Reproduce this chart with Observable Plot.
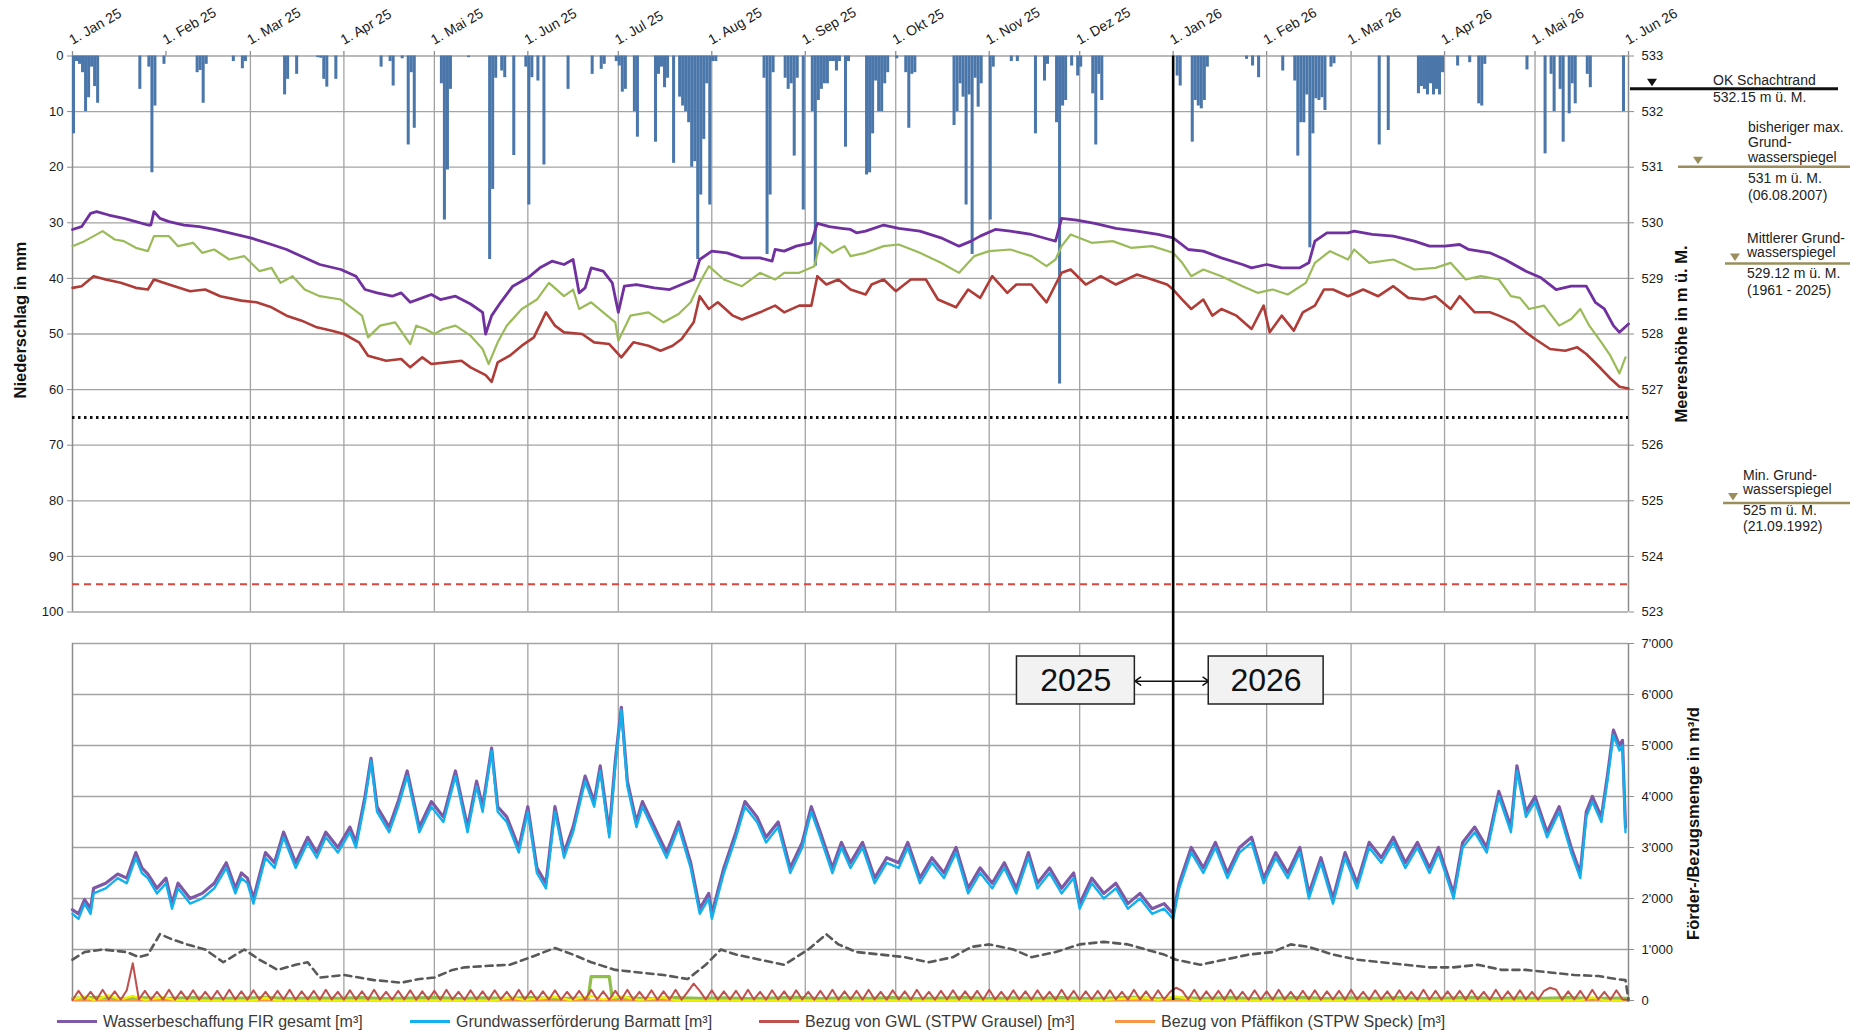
<!DOCTYPE html>
<html><head><meta charset="utf-8">
<script src="https://cdn.jsdelivr.net/npm/d3@7"></script>
<script src="https://cdn.jsdelivr.net/npm/@observablehq/plot@0.6"></script>
<style>
html,body{margin:0;padding:0;background:#fff;}
#wrap{position:relative;width:1850px;height:1032px;overflow:hidden;font-family:"Liberation Sans",Arial,sans-serif;}
#top{position:absolute;left:0;top:0;}
#bot{position:absolute;left:0;top:630px;}
.lg{position:absolute;top:1013px;height:18px;line-height:18px;font-size:16px;color:#3a3a3a;white-space:nowrap;}
.sw{display:inline-block;width:40px;height:3px;vertical-align:middle;margin-right:6px;position:relative;top:-1px;}
</style></head><body>
<div id="wrap"><div id="top"></div><div id="bot"></div>
<div class="lg" style="left:57px"><span class="sw" style="background:#7e5aa6"></span>Wasserbeschaffung FIR gesamt [m³]</div>
<div class="lg" style="left:410px"><span class="sw" style="background:#12b0ec"></span>Grundwasserförderung Barmatt [m³]</div>
<div class="lg" style="left:759px"><span class="sw" style="background:#c0504d"></span>Bezug von GWL (STPW Grausel) [m³]</div>
<div class="lg" style="left:1115px"><span class="sw" style="background:#f79646"></span>Bezug von Pfäffikon (STPW Speck) [m³]</div>
</div>
<script>
// ---------- DATA (days counted from 1. Jan 2025) ----------
const monthTicks = ["2025-01-01","2025-02-01","2025-03-01","2025-04-01","2025-05-01","2025-06-01","2025-07-01","2025-08-01","2025-09-01","2025-10-01","2025-11-01","2025-12-01","2026-01-01","2026-02-01","2026-03-01","2026-04-01","2026-05-01","2026-06-01"];
const monthLabels = ["1. Jan 25","1. Feb 25","1. Mar 25","1. Apr 25","1. Mai 25","1. Jun 25","1. Jul 25","1. Aug 25","1. Sep 25","1. Okt 25","1. Nov 25","1. Dez 25","1. Jan 26","1. Feb 26","1. Mar 26","1. Apr 26","1. Mai 26","1. Jun 26"];
const gridMonths = ["2025-03-01","2025-04-01","2025-05-01","2025-06-01","2025-07-01","2025-08-01","2025-09-01","2025-10-01","2025-11-01","2025-12-01","2026-02-01","2026-03-01","2026-04-01","2026-05-01"];
const precipTicks = [0,10,20,30,40,50,60,70,80,90,100];
const levelTickLabels = ["533","532","531","530","529","528","527","526","525","524","523"];
const qTicks = [0,1000,2000,3000,4000,5000,6000,7000];
const qTickLabels = ["0","1'000","2'000","3'000","4'000","5'000","6'000","7'000"];

// Niederschlag [day, mm]
const precip = [[0,14],[1,1],[2,1.5],[3,3],[4,10],[5,7.5],[6,2],[7,5.5],[8,8.5],[22,6],[25,2],[26,21],[27,9],[30,1.5],[41,3],[42,2.6],[43,8.5],[44,1.5],[53,1],[56,2.3],[57,1],[70,7],[71,4.2],[74,3.3],[81,0.3],[82,0.4],[83,4.2],[84,5.6],[87,4.2],[102,2],[105,1],[106,5.4],[109,0.5],[111,16],[112,3],[113,13],[122,5],[123,29.5],[124,20.5],[125,6],[131,0.3],[138,36.6],[139,24],[140,4],[142,2.7],[143,3.9],[146,17.9],[150,2],[151,26.8],[152,3.9],[154,4.5],[156,19.6],[164,6],[172,3.3],[175,2.4],[176,1.5],[180,1],[181,1.8],[182,6.5],[183,6],[186,10],[187,14.6],[193,15.5],[194,3.3],[195,2],[196,5.7],[197,4],[199,19.3],[201,7.4],[202,9],[203,10],[204,12],[205,20],[206,19],[207,36.6],[208,25],[209,15],[210,5],[211,26.8],[212,1],[213,1],[229,4],[230,35.7],[231,25],[232,3],[236,4],[237,6],[238,5],[239,18],[240,4],[242,27.7],[245,10],[246,37.8],[247,8],[248,6],[249,5],[250,5],[251,1],[252,1],[253,2.7],[254,1],[256,16.4],[257,1],[263,21.4],[264,21],[265,14],[266,4.5],[267,10],[268,10],[269,5],[270,3],[273,0.5],[276,3],[277,13],[278,3.3],[279,3],[292,12.5],[293,10],[294,5],[295,7.4],[296,26.8],[297,7],[298,35.7],[299,4],[300,9.2],[301,5],[304,29.5],[305,2],[311,1],[313,1],[319,14],[322,4.5],[323,1.5],[326,12],[327,59],[328,9],[329,8],[331,1.8],[333,3.6],[334,2],[338,6.8],[339,16],[340,3.3],[341,8],[366,3.6],[367,5.4],[371,15.5],[372,8],[373,9],[374,9.5],[375,8],[376,2],[389,0.6],[391,1.8],[393,3.9],[401,2.7],[405,4.5],[406,18],[407,12],[408,12],[409,7],[410,34.5],[411,14],[412,7.7],[413,8],[414,7.5],[415,9.8],[417,2],[418,1.4],[433,16],[436,13.4],[446,6.8],[447,5.5],[448,6],[449,7],[450,5],[451,7],[452,6],[453,7],[454,3],[459,1.8],[463,1.2],[466,8.6],[467,9],[468,1.5],[482,2.5],[488,17.6],[490,3.3],[491,10],[493,6],[494,15.5],[496,10.4],[497,5],[498,8.6],[502,3.3],[503,5.7],[514,10]];

// Grundwasserspiegel [day, m ü. M.]
const levelPurple = [[0,529.88],[3,529.93],[6,530.17],[8,530.20],[12,530.14],[17,530.08],[21,530.02],[25,529.96],[26,529.96],[27,530.20],[29,530.08],[32,530.02],[37,529.96],[42,529.93],[47,529.88],[52,529.82],[59,529.73],[66,529.61],[71,529.52],[77,529.37],[82,529.25],[89,529.16],[94,529.04],[97,528.80],[101,528.74],[106,528.68],[109,528.74],[112,528.57],[116,528.65],[119,528.71],[122,528.62],[127,528.68],[132,528.54],[136,528.39],[137,528.00],[139,528.33],[142,528.57],[146,528.86],[151,529.01],[155,529.19],[159,529.31],[163,529.25],[166,529.34],[168,528.74],[170,528.83],[172,529.19],[176,529.13],[179,528.92],[181,528.39],[183,528.86],[187,528.89],[193,528.83],[198,528.80],[202,528.89],[206,528.98],[208,529.34],[212,529.49],[217,529.46],[222,529.37],[228,529.37],[232,529.31],[233,529.52],[236,529.49],[240,529.58],[245,529.64],[247,529.99],[251,529.93],[255,529.90],[258,529.88],[260,529.82],[263,529.85],[269,529.96],[274,529.90],[281,529.85],[288,529.73],[294,529.58],[298,529.67],[301,529.76],[306,529.88],[311,529.85],[318,529.79],[324,529.70],[326,529.67],[328,530.08],[333,530.05],[339,529.99],[346,529.90],[353,529.85],[360,529.79],[365,529.73],[370,529.52],[375,529.49],[381,529.37],[388,529.25],[391,529.19],[396,529.25],[401,529.19],[407,529.19],[410,529.28],[412,529.67],[416,529.82],[423,529.82],[425,529.85],[431,529.79],[438,529.76],[445,529.67],[450,529.58],[455,529.58],[460,529.61],[463,529.52],[470,529.46],[475,529.34],[482,529.13],[487,529.01],[492,528.80],[497,528.86],[502,528.86],[505,528.57],[508,528.45],[511,528.15],[513,528.03],[516,528.18]];
const levelGreen = [[0,529.58],[4,529.67],[10,529.85],[14,529.70],[17,529.67],[21,529.55],[25,529.49],[27,529.76],[32,529.76],[35,529.58],[40,529.64],[43,529.46],[47,529.52],[52,529.34],[57,529.40],[62,529.13],[66,529.19],[69,528.92],[73,529.04],[77,528.80],[82,528.68],[89,528.62],[96,528.33],[98,527.94],[102,528.15],[107,528.21],[112,527.82],[114,528.15],[117,528.09],[120,528.00],[123,528.09],[127,528.15],[132,527.97],[136,527.73],[138,527.46],[141,527.85],[144,528.15],[149,528.45],[154,528.62],[158,528.92],[163,528.68],[166,528.80],[168,528.45],[172,528.57],[176,528.39],[180,528.21],[181,527.88],[185,528.33],[191,528.39],[196,528.21],[201,528.36],[205,528.57],[208,528.92],[211,529.22],[216,528.98],[222,528.86],[228,529.10],[233,528.98],[236,529.10],[241,529.10],[246,529.22],[248,529.64],[252,529.46],[256,529.58],[258,529.40],[263,529.46],[269,529.58],[274,529.61],[281,529.46],[288,529.28],[294,529.10],[299,529.40],[304,529.49],[311,529.52],[318,529.40],[323,529.22],[326,529.34],[328,529.58],[331,529.79],[338,529.64],[345,529.67],[351,529.55],[358,529.58],[365,529.46],[368,529.28],[371,529.04],[375,529.16],[381,529.04],[388,528.86],[393,528.74],[398,528.80],[403,528.71],[409,528.92],[412,529.28],[417,529.49],[423,529.34],[425,529.52],[430,529.28],[438,529.34],[445,529.16],[452,529.19],[457,529.28],[462,528.98],[467,529.04],[473,528.98],[477,528.68],[480,528.65],[483,528.45],[488,528.51],[493,528.15],[497,528.27],[500,528.45],[503,528.15],[507,527.85],[510,527.61],[513,527.29],[515,527.58]];
const levelRed = [[0,528.83],[3,528.86],[7,529.04],[11,528.98],[16,528.92],[21,528.83],[25,528.80],[27,528.98],[32,528.89],[39,528.77],[44,528.80],[49,528.68],[56,528.60],[61,528.57],[66,528.48],[71,528.33],[76,528.24],[81,528.12],[86,528.06],[90,528.00],[95,527.85],[98,527.61],[104,527.52],[109,527.55],[112,527.40],[116,527.58],[119,527.46],[124,527.49],[129,527.52],[132,527.40],[137,527.26],[139,527.14],[141,527.49],[145,527.61],[149,527.79],[153,527.94],[157,528.39],[160,528.15],[163,528.03],[169,528.00],[173,527.85],[178,527.82],[182,527.58],[186,527.85],[191,527.79],[195,527.70],[199,527.79],[202,527.91],[206,528.21],[208,528.68],[211,528.45],[214,528.57],[219,528.33],[222,528.26],[228,528.39],[233,528.51],[236,528.39],[241,528.51],[245,528.51],[247,529.04],[250,528.89],[254,528.98],[258,528.80],[263,528.71],[265,528.89],[269,528.98],[273,528.77],[278,528.98],[283,528.98],[287,528.62],[293,528.48],[297,528.80],[301,528.65],[305,529.04],[310,528.74],[313,528.89],[318,528.89],[323,528.57],[326,528.89],[328,529.10],[331,529.16],[336,528.89],[341,529.04],[346,528.89],[353,529.07],[358,528.98],[363,528.89],[365,528.80],[368,528.62],[371,528.45],[375,528.62],[378,528.33],[381,528.45],[386,528.33],[391,528.09],[395,528.51],[397,528.03],[401,528.33],[405,528.06],[408,528.39],[412,528.51],[415,528.80],[418,528.80],[423,528.68],[428,528.80],[433,528.68],[438,528.86],[443,528.65],[448,528.62],[452,528.68],[457,528.45],[460,528.68],[465,528.39],[470,528.39],[473,528.33],[478,528.21],[482,528.03],[485,527.91],[490,527.73],[495,527.70],[499,527.76],[502,527.64],[507,527.37],[510,527.20],[513,527.05],[516,527.02]];

// Förder-/Bezugsmengen [m3/d]
const supplyDays = [0,2,4,6,7,11,15,18,21,23, 25,28,31,33,35,39,43,47,51,54, 56,58,60,64,67,70,74,78,81,84, 88,92,94,97,99,101,105,108,111,115, 119,123,127,131,134,136,139,141,144,148, 151,154,157,160,163,166,170,173,175,178, 180,182,184,187,189,193,197,201,205,208, 211,212,216,220,223,227,230,234,238,242, 245,248,252,255,258,262,266,270,274,277, 281,285,289,293,297,301,305,309,313,317, 320,324,328,332,334,338,342,346,350,354, 358,362,365,367,371,375,379,383,387,391, 395,399,403,407,410,414,418,422,426,430, 434,438,442,446,450,453,458,461,465,469, 473,477,479,482,485,489,493,497,500,502, 504,507,509,511,513,514,515];
const barmatt = [1700,1600,1900,1700,2100,2200,2400,2300,2800,2500, 2400,2100,2300,1800,2200,1900,2000,2200,2600,2100, 2400,2300,1900,2800,2600,3200,2600,3100,2800,3200, 2900,3300,3000,3900,4700,3700,3300,3800,4400,3300, 3800,3500,4400,3300,4200,3700,4900,3700,3500,2900, 3700,2500,2200,3700,2800,3300,4300,3800,4500,3200, 4600,5700,4200,3400,3800,3300,2800,3400,2600,1700, 2000,1600,2500,3200,3800,3500,3100,3400,2500,3000, 3700,3200,2500,3000,2600,3000,2300,2700,2600,3000, 2300,2700,2400,2900,2100,2500,2200,2600,2100,2800, 2200,2500,2100,2400,1800,2300,2000,2200,1800,2000, 1700,1800,1600,2200,2900,2500,3000,2400,2900,3100, 2300,2800,2400,2900,2000,2700,1900,2800,2200,3000, 2700,3100,2600,3000,2500,2900,2000,3000,3300,2900, 4000,3300,4500,3600,3900,3200,3700,2900,2400,3600, 3900,3500,4300,5200,4900,5000,3300];
const firTotal = [1780,1700,1980,1800,2200,2300,2480,2400,2900,2600, 2480,2200,2400,1900,2300,2000,2100,2300,2700,2200, 2500,2400,2000,2900,2700,3300,2700,3200,2900,3300, 3000,3400,3100,4000,4750,3800,3400,3900,4500,3400, 3900,3600,4500,3400,4300,3800,4950,3800,3600,3000, 3800,2600,2300,3800,2900,3400,4400,3900,4600,3300, 4700,5750,4300,3500,3900,3400,2900,3500,2700,1800, 2100,1700,2600,3300,3900,3600,3200,3500,2600,3100, 3800,3300,2600,3100,2700,3100,2400,2800,2700,3100, 2400,2800,2500,3000,2200,2600,2300,2700,2200,2900, 2300,2600,2200,2500,1900,2400,2100,2300,1900,2100, 1800,1900,1700,2300,3000,2600,3100,2500,3000,3200, 2400,2900,2500,3000,2100,2800,2000,2900,2300,3100, 2800,3200,2700,3100,2600,3000,2100,3100,3400,3000, 4100,3400,4600,3700,4000,3300,3800,3000,2500,3700, 4000,3600,4400,5300,5000,5100,3400];
// GWL Grausel, every second day from day 0
const grausel = [10,190,20,170,15,210,20,180,15,200, 730,20,190,15,170,20,210,15,180,20, 200,15,170,20,190,15,210,20,180,15, 200,20,170,15,190,20,210,15,180,20, 190,15,210,20,170,15,200,20,180,15, 210,20,170,15,190,20,200,15,180,20, 190,15,210,20,170,15,200,20,180,15, 200,20,170,15,210,20,190,15,180,20, 200,15,170,20,190,15,210,20,180,15, 190,20,210,15,170,20,200,15,180,20, 210,15,170,330,190,20,200,15,180,20, 190,15,210,20,170,15,200,20,180,15, 200,20,170,15,190,20,210,15,180,20, 190,15,210,20,170,15,200,20,180,15, 210,20,170,15,190,20,200,15,180,20, 190,15,210,20,170,15,200,20,180,15, 200,20,170,15,210,20,190,15,180,20, 190,15,200,20,170,15,210,20,180,15, 200,20,170,250,190,20,210,15,180,20, 190,15,210,20,170,15,200,20,180,15, 210,20,170,15,190,20,200,15,180,20, 190,15,210,20,170,15,200,20,180,15, 200,20,170,15,210,20,190,15,180,20, 190,15,200,20,170,15,210,20,180,15, 200,20,170,15,190,250,210,15,180,20, 190,15,210,20,170,15,200,20,10];
const greenQ = [[0,40],[8,60],[16,35],[24,50],[32,40],[40,55],[48,35],[56,45],[64,60],[72,35],[80,50],[88,40],[96,55],[104,35],[112,45],[120,60],[128,35],[136,50],[144,40],[152,55],[160,35],[168,45],[171,40],[172,470],[178,470],[179,40],[184,50],[192,35],[200,55],[208,40],[216,50],[224,35],[232,45],[240,60],[248,35],[256,50],[264,40],[272,55],[280,35],[288,45],[296,60],[304,35],[312,50],[320,40],[328,55],[336,35],[344,45],[352,60],[360,35],[368,50],[376,40],[384,55],[392,35],[400,45],[408,60],[416,35],[424,50],[432,40],[440,55],[448,35],[456,45],[464,60],[472,35],[480,50],[488,40],[496,55],[504,35],[512,45],[516,40]];
const yellowQ = [[0,20],[4,80],[7,10],[12,100],[16,20],[20,90],[24,10],[30,60],[34,10],[40,0],[60,0],[64,50],[68,0],[140,0],[145,60],[150,10],[160,70],[165,10],[172,90],[176,20],[182,80],[188,10],[196,60],[200,0],[340,0],[355,60],[360,10],[366,80],[372,10],[380,0],[500,0],[504,60],[508,0],[516,0]];
const pfaeffikon = [[0,0],[516,0]];
const greyDashed = [[0,800],[4,950],[10,1000],[18,950],[22,850],[25,900],[29,1300],[33,1200],[38,1100],[44,1000],[50,750],[57,1000],[62,800],[68,600],[74,700],[78,750],[82,450],[90,500],[100,400],[109,350],[115,420],[120,450],[126,600],[130,650],[138,680],[145,700],[152,850],[160,1030],[166,900],[172,750],[180,600],[188,550],[196,500],[204,420],[210,700],[215,1000],[220,900],[228,800],[236,700],[244,1000],[250,1300],[254,1100],[260,950],[268,900],[276,850],[284,750],[292,850],[298,1050],[304,1100],[312,1000],[318,850],[326,950],[334,1100],[342,1150],[350,1100],[356,1000],[362,900],[366,800],[374,700],[382,800],[390,900],[398,950],[404,1100],[410,1050],[418,900],[426,800],[434,750],[442,700],[450,650],[458,650],[466,700],[474,600],[482,600],[490,550],[498,500],[506,480],[512,420],[515,400],[516,0]];

// ---------- CHART ----------
const BASE = Date.UTC(2025, 0, 1);
const day = d => new Date(BASE + d * 864e5);
const toMm = lvl => (533 - lvl) * 10;
const GRID = "#a3a3a3", AXIS = "#8c8c8c", FONT = "Liberation Sans, Arial, sans-serif";
const xDom = [day(0), day(516)];
const style = {fontFamily: FONT, fontSize: "13px", color: "#1a1a1a", background: "transparent"};

const topPlot = Plot.plot({
  width: 1850, height: 630, marginLeft: 72, marginRight: 222, marginTop: 55.5, marginBottom: 18.5,
  x: {type: "utc", domain: xDom, axis: null},
  y: {domain: [0, 100], reverse: true, axis: null},
  style,
  marks: [
    Plot.ruleY(precipTicks, {stroke: GRID, strokeWidth: 1.3}),
    Plot.ruleX(gridMonths, {x: d => new Date(d), stroke: GRID, strokeWidth: 1.3}),
    Plot.ruleX([monthTicks[0], monthTicks[17]], {x: d => new Date(d), stroke: AXIS, strokeWidth: 1.5}),
    Plot.ruleX(monthTicks, {x: d => new Date(d), y1: 0, y2: -0.8, stroke: AXIS, strokeWidth: 1.3}),
    Plot.rect(precip, {x1: d => day(d[0]), x2: d => day(d[0] + 1), y1: 0, y2: d => d[1], fill: "#4a76aa"}),
    Plot.ruleY([526.5], {y: toMm, stroke: "#111", strokeWidth: 3, strokeDasharray: "2.5,3.5"}),
    Plot.ruleY([523.5], {y: toMm, stroke: "#d9463e", strokeWidth: 2, strokeDasharray: "7,5"}),
    Plot.line(levelRed, {x: d => day(d[0]), y: d => toMm(d[1]), stroke: "#b03c38", strokeWidth: 2.6}),
    Plot.line(levelGreen, {x: d => day(d[0]), y: d => toMm(d[1]), stroke: "#9bbb59", strokeWidth: 2.2}),
    Plot.line(levelPurple, {x: d => day(d[0]), y: d => toMm(d[1]), stroke: "#7030a0", strokeWidth: 2.8}),
    Plot.ruleX([monthTicks[12]], {x: d => new Date(d), y1: 0, y2: 105, stroke: "#000", strokeWidth: 2.6}),
    Plot.axisY({anchor: "left", ticks: precipTicks, tickSize: 5, tickPadding: 4, stroke: AXIS, fill: "#1a1a1a", label: null, fontSize: 13}),
    Plot.axisY({anchor: "right", ticks: precipTicks, tickFormat: d => levelTickLabels[precipTicks.indexOf(d)], tickSize: 5, tickPadding: 8, stroke: AXIS, fill: "#1a1a1a", label: null, fontSize: 13}),
    Plot.text(monthTicks, {x: d => new Date(d), text: (d, i) => monthLabels[i], frameAnchor: "top", rotate: -30, textAnchor: "start", lineAnchor: "bottom", dy: -11, dx: 0, fontSize: 14, fill: "#1a1a1a"}),
    Plot.text(["Niederschlag in mm"], {frameAnchor: "left", y: () => 47.5, dx: -52, rotate: -90, textAnchor: "middle", fontWeight: "bold", fontSize: 16.5, fill: "#111"}),
    Plot.text(["Meereshöhe in m ü. M."], {frameAnchor: "right", y: () => 50, dx: 53, rotate: -90, textAnchor: "middle", fontWeight: "bold", fontSize: 16.5, fill: "#111"})
  ]
});
document.getElementById("top").appendChild(topPlot);

// reference levels on the right
const ys = topPlot.scale("y");
const svg = d3.select(topPlot);
const refs = [
  {level: 532.4, x1: 1630, x2: 1838, tri: 1652, color: "#111", w: 3, tx: 1713, lines: [["OK Schachtrand", -4], ["532.15 m ü. M.", 13]]},
  {level: 531.0, x1: 1678, x2: 1850, tri: 1698, color: "#9a8f5c", w: 2.5, tx: 1748, lines: [["bisheriger max.", -35], ["Grund-", -20], ["wasserspiegel", -5], ["531 m ü. M.", 16], ["(06.08.2007)", 33]]},
  {level: 529.26, x1: 1725, x2: 1850, tri: 1735, color: "#9a8f5c", w: 2.5, tx: 1747, lines: [["Mittlerer Grund-", -20], ["wasserspiegel", -6], ["529.12 m ü. M.", 15], ["(1961 - 2025)", 32]]},
  {level: 524.95, x1: 1723, x2: 1850, tri: 1733, color: "#9a8f5c", w: 2.5, tx: 1743, lines: [["Min. Grund-", -23], ["wasserspiegel", -9], ["525 m ü. M.", 12], ["(21.09.1992)", 28]]}
];
for (const r of refs) {
  const ly = ys.apply(toMm(r.level));
  svg.append("line").attr("x1", r.x1).attr("x2", r.x2).attr("y1", ly).attr("y2", ly).attr("stroke", r.color).attr("stroke-width", r.w);
  svg.append("path").attr("d", `M${r.tri - 5},${ly - 10}L${r.tri + 5},${ly - 10}L${r.tri},${ly - 2.5}Z`).attr("fill", r.color);
  for (const [t, off] of r.lines) {
    svg.append("text").attr("x", r.tx).attr("y", ly + off).attr("text-anchor", "start").attr("font-size", 14).attr("font-family", FONT).attr("fill", "#222").text(t);
  }
}

const botPlot = Plot.plot({
  width: 1850, height: 380, marginLeft: 72, marginRight: 222, marginTop: 13, marginBottom: 10,
  x: {type: "utc", domain: xDom, axis: null},
  y: {domain: [0, 7000], axis: null},
  style,
  marks: [
    Plot.ruleY(qTicks, {stroke: GRID, strokeWidth: 1.3}),
    Plot.ruleX(gridMonths, {x: d => new Date(d), stroke: GRID, strokeWidth: 1.3}),
    Plot.ruleX([monthTicks[0], monthTicks[17]], {x: d => new Date(d), stroke: AXIS, strokeWidth: 1.5}),
    Plot.line(pfaeffikon, {x: d => day(d[0]), y: d => d[1], stroke: "#f79646", strokeWidth: 2}),
    Plot.line(greenQ, {x: d => day(d[0]), y: d => d[1], stroke: "#8fbf4a", strokeWidth: 3.2}),
    Plot.line(yellowQ, {x: d => day(d[0]), y: d => d[1], stroke: "#f2f200", strokeWidth: 2.2}),
    Plot.line(grausel.map((v, i) => [2 * i, v]), {x: d => day(d[0]), y: d => d[1], stroke: "#c0504d", strokeWidth: 2}),
    Plot.line(greyDashed, {x: d => day(d[0]), y: d => d[1], stroke: "#595959", strokeWidth: 2.6, strokeDasharray: "7,5"}),
    Plot.line(supplyDays.map((d, i) => [d, firTotal[i]]), {x: d => day(d[0]), y: d => d[1], stroke: "#7e5aa6", strokeWidth: 3.2}),
    Plot.line(supplyDays.map((d, i) => [d, barmatt[i]]), {x: d => day(d[0]), y: d => d[1], stroke: "#12b0ec", strokeWidth: 2.4}),
    Plot.ruleX([monthTicks[12]], {x: d => new Date(d), y1: 0, y2: 7400, stroke: "#000", strokeWidth: 2.6}),
    Plot.arrow([[365, 352.3], [365, 376.8]], {x1: d => day(d[0]), x2: d => day(d[1]), y1: () => 6261, y2: () => 6261, stroke: "#111", strokeWidth: 1.5, headLength: 7, headAngle: 70}),
    Plot.rect(["2025", "2026"], {x1: d => d === "2025" ? day(313.2) : day(376.8), x2: d => d === "2025" ? day(352.3) : day(414.9), y1: () => 5804, y2: () => 6745, fill: "#f2f2f2", stroke: "#222", strokeWidth: 1.5}),
    Plot.text(["2025", "2026"], {x: d => d === "2025" ? day(332.7) : day(395.8), y: () => 6275, text: d => d, fontSize: 32, fill: "#111"}),
    Plot.axisY({anchor: "right", ticks: qTicks, tickFormat: d => qTickLabels[qTicks.indexOf(d)], tickSize: 5, tickPadding: 8, stroke: AXIS, fill: "#1a1a1a", label: null, fontSize: 13}),
    Plot.text(["Förder-/Bezugsmenge in m³/d"], {frameAnchor: "right", y: () => 3470, dx: 65, rotate: -90, textAnchor: "middle", fontWeight: "bold", fontSize: 16.5, fill: "#111"})
  ]
});
document.getElementById("bot").appendChild(botPlot);
</script>
</body></html>
